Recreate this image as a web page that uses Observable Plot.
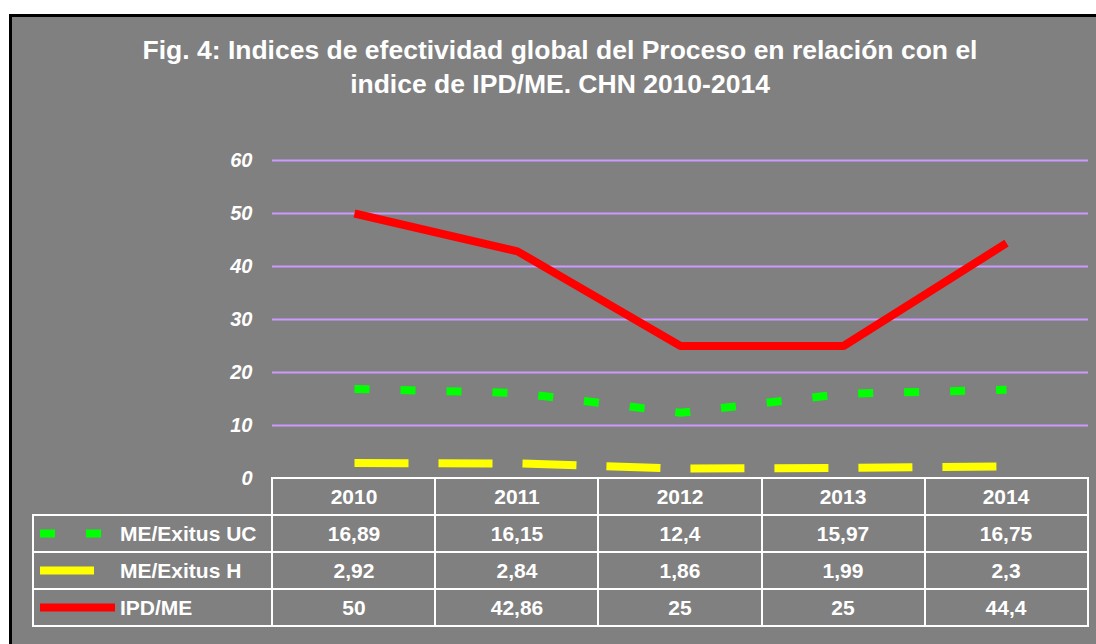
<!DOCTYPE html>
<html>
<head>
<meta charset="utf-8">
<script src="https://cdn.jsdelivr.net/npm/d3@7"></script>
<script src="https://cdn.jsdelivr.net/npm/@observablehq/plot@0.6"></script>
<style>
  html, body { margin: 0; padding: 0; background: #ffffff; width: 1096px; height: 644px; overflow: hidden; }
  body { font-family: "Liberation Sans", Arial, sans-serif; position: relative; }
  #frame { position: absolute; left: 9px; top: 14px; width: 1100px; height: 650px; background: #808080; border-left: 3px solid #000; border-top: 3px solid #000; box-sizing: border-box; }
  #title { position: absolute; left: 60px; top: 33px; width: 1000px; text-align: center; color: #fff; font-weight: bold; font-size: 26.5px; line-height: 34px; white-space: nowrap; }
  #chart { position: absolute; left: 0; top: 0; }
  .cell { position: absolute; color: #fff; font-weight: bold; font-size: 21px; display: flex; align-items: center; justify-content: center; white-space: nowrap; }
  .lbl { justify-content: flex-start; }
  .hl { position: absolute; background: #fff; }
</style>
</head>
<body>
<div id="frame"></div>
<div id="title">Fig. 4: Indices de efectividad global del Proceso en relación con el<br>indice de IPD/ME. CHN 2010-2014</div>
<div id="chart"></div>
<div id="table"></div>
<script>
// ---- data ----
const years = ["2010", "2011", "2012", "2013", "2014"];
const meExitusUC = [16.89, 16.15, 12.4, 15.97, 16.75];
const meExitusH = [2.92, 2.84, 1.86, 1.99, 2.3];
const ipdMe = [50, 42.86, 25, 25, 44.4];
const seriesNames = ["ME/Exitus UC", "ME/Exitus H", "IPD/ME"];
const seriesColors = ["#00FF00", "#FFFF00", "#FF0000"];
const seriesDash = ["15,31", "54,30", null];
const yTicks = [0, 10, 20, 30, 40, 50, 60];
const gridTicks = [10, 20, 30, 40, 50, 60];

const seriesValues = [meExitusUC, meExitusH, ipdMe];
const toRows = (vals) => years.map((y, i) => ({year: y, value: vals[i]}));

const W = 1096, H = 644;
const mL = 272, mR = 8, mT = 160, mB = 166;

const marks = [
  Plot.ruleY(gridTicks, {stroke: "#CC99FF", strokeWidth: 2}),
  Plot.axisY({ticks: yTicks, tickSize: 0, tickPadding: 20, label: null,
    fontSize: 20, fontWeight: "bold", fontStyle: "italic", fill: "#ffffff"})
];
seriesValues.forEach((vals, i) => {
  const opts = {x: "year", y: "value", stroke: seriesColors[i], strokeWidth: 8,
    strokeLinejoin: "miter", strokeLinecap: "butt"};
  if (seriesDash[i]) opts.strokeDasharray = seriesDash[i];
  marks.push(Plot.line(toRows(vals), opts));
});

const plot = Plot.plot({
  width: W, height: H,
  marginLeft: mL, marginRight: mR, marginTop: mT, marginBottom: mB,
  style: {background: "transparent", fontFamily: "'Liberation Sans', Arial, sans-serif", overflow: "visible"},
  x: {type: "point", domain: years, padding: 0.5, axis: null},
  y: {domain: [0, 60], axis: null},
  marks
});
document.getElementById("chart").appendChild(plot);

// ---- data table (positions derived from the plot's scales) ----
const xs = plot.scale("x");
const ys = plot.scale("y");
const table = document.getElementById("table");
const colLeft = mL, colRight = W - mR;
const colW = (colRight - colLeft) / years.length;
const top0 = ys.apply(0);
const rowH = 37;
const legendLeft = 33;
const lineW = 2;

function hline(x1, x2, y) {
  const d = document.createElement("div");
  d.className = "hl";
  Object.assign(d.style, {left: (x1 - 1) + "px", top: (y - 1) + "px", width: (x2 - x1 + 2) + "px", height: lineW + "px"});
  table.appendChild(d);
}
function vline(x, y1, y2) {
  const d = document.createElement("div");
  d.className = "hl";
  Object.assign(d.style, {left: (x - 1) + "px", top: (y1 - 1) + "px", width: lineW + "px", height: (y2 - y1 + 2) + "px"});
  table.appendChild(d);
}
function cell(text, x, y, w, h, cls) {
  const d = document.createElement("div");
  d.className = "cell" + (cls ? " " + cls : "");
  Object.assign(d.style, {left: x + "px", top: y + "px", width: w + "px", height: h + "px"});
  d.textContent = text;
  table.appendChild(d);
}
const fmt = (v) => String(v).replace(".", ",");

const nRows = 1 + seriesNames.length;
const bottom = top0 + nRows * rowH;
hline(colLeft, colRight, top0);
for (let r = 1; r <= nRows; r++) hline(legendLeft, colRight, top0 + r * rowH);
vline(legendLeft, top0 + rowH, bottom);
for (let c = 0; c <= years.length; c++) vline(colLeft + c * colW, top0, bottom);

years.forEach((y, c) => {
  const cx = xs.apply(y);
  cell(y, cx - colW / 2, top0, colW, rowH);
  seriesValues.forEach((vals, r) => {
    cell(fmt(vals[c]), cx - colW / 2, top0 + (r + 1) * rowH, colW, rowH);
  });
});

// legend keys
const ns = "http://www.w3.org/2000/svg";
const svg = document.createElementNS(ns, "svg");
svg.setAttribute("width", W); svg.setAttribute("height", H);
Object.assign(svg.style, {position: "absolute", left: "0px", top: "0px"});
const keyLens = [62, 54, 75];
seriesNames.forEach((name, r) => {
  const yMid = top0 + (r + 1) * rowH + rowH / 2;
  const ln = document.createElementNS(ns, "line");
  ln.setAttribute("x1", 40); ln.setAttribute("x2", 40 + keyLens[r]);
  ln.setAttribute("y1", yMid); ln.setAttribute("y2", yMid);
  ln.setAttribute("stroke", seriesColors[r]); ln.setAttribute("stroke-width", 8);
  if (seriesDash[r]) ln.setAttribute("stroke-dasharray", seriesDash[r]);
  svg.appendChild(ln);
  cell(name, 120, top0 + (r + 1) * rowH, 150, rowH, "lbl");
});
table.appendChild(svg);
</script>
</body>
</html>
